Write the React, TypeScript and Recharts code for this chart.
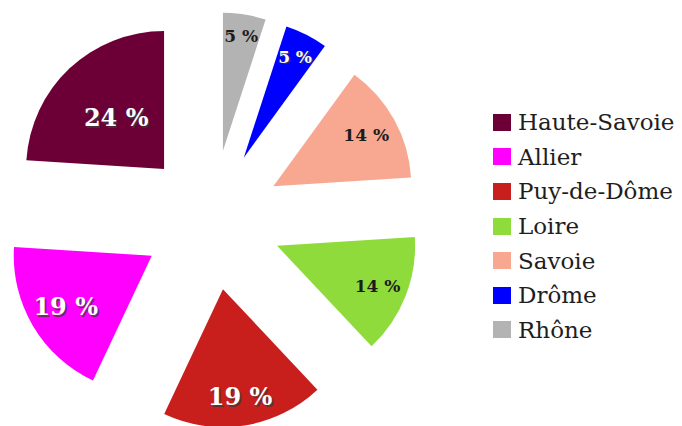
import React from 'react';
import { PieChart, Pie, Cell, Sector, Legend } from 'recharts';

// Data (clockwise from 12 o'clock)
const regions = ['Rhône', 'Drôme', 'Savoie', 'Loire', 'Puy-de-Dôme', 'Allier', 'Haute-Savoie'];
const shares = [5, 5, 14, 14, 19, 19, 24];
const colors = ['#b3b3b3', '#0000ff', '#f8a890', '#8fdb3c', '#c81f1d', '#ff00ff', '#6c0036'];

const data = regions.map((name, i) => ({ name, value: shares[i] }));

// Styles
const labelFill: Record<string, string> = {
  'Rhône': '#1c1c1c',
  'Drôme': '#ffffff',
  'Savoie': '#1c1c1c',
  'Loire': '#1c1c1c',
  'Puy-de-Dôme': '#ffffff',
  'Allier': '#ffffff',
  'Haute-Savoie': '#ffffff',
};
const labelRadius: Record<string, number> = {
  'Rhône': 116,
  'Drôme': 113,
  'Savoie': 106,
  'Loire': 108,
  'Puy-de-Dôme': 109,
  'Allier': 100,
  'Haute-Savoie': 70,
};

const RAD = Math.PI / 180;
const EXPLODE = 70;
const FONT = '"DejaVu Serif", serif';

function renderSlice(props: any) {
  const { cx, cy, midAngle, startAngle, endAngle, outerRadius, index, value } = props;
  const name = regions[index];
  const ux = Math.cos(-midAngle * RAD);
  const uy = Math.sin(-midAngle * RAD);
  const ax = cx + EXPLODE * ux;
  const ay = cy + EXPLODE * uy;
  const r = labelRadius[name];
  const lx = ax + r * ux;
  const ly = ay + r * uy;
  const fs = value >= 19 ? 24 : 17;
  const fill = labelFill[name];
  const light = fill === '#ffffff';
  const txt = `${value} %`;
  return (
    <g key={`slice-${index}`}>
      <Sector
        cx={ax}
        cy={ay}
        innerRadius={0}
        outerRadius={outerRadius}
        startAngle={startAngle}
        endAngle={endAngle}
        fill={colors[index]}
        stroke="none"
      />
      {light && (
        <text
          x={lx + 1.5}
          y={ly + 1.5}
          textAnchor="middle"
          dominantBaseline="central"
          fontFamily={FONT}
          fontWeight="bold"
          fontSize={fs}
          fill="#3a3a3a"
          opacity={0.75}
        >
          {txt}
        </text>
      )}
      <text
        x={lx}
        y={ly}
        textAnchor="middle"
        dominantBaseline="central"
        fontFamily={FONT}
        fontWeight="bold"
        fontSize={fs}
        fill={fill}
      >
        {txt}
      </text>
    </g>
  );
}

function LegendBox(props: any) {
  const payload: any[] = (props.payload && props.payload.length ? props.payload : data.map((d, i) => ({ value: d.name, color: colors[i] })));
  const items = [...payload].sort((a: any, b: any) => regions.indexOf(b.value) - regions.indexOf(a.value));
  return (
    <div style={{ fontFamily: FONT, fontSize: 23, color: '#1e1e1e' }}>
      {items.map((it: any) => {
        const idx = regions.indexOf(it.value);
        return (
          <div key={it.value} style={{ display: 'flex', alignItems: 'center', height: 34.6 }}>
            <span style={{ display: 'inline-block', width: 18, height: 17, background: colors[idx], marginRight: 7, flexShrink: 0 }} />
            <span style={{ lineHeight: '26px', whiteSpace: 'nowrap' }}>{it.value}</span>
          </div>
        );
      })}
    </div>
  );
}

export default function App() {
  return (
    <div style={{ position: 'absolute', left: 0, top: 0, width: 682, height: 426, background: '#ffffff' }}>
      <PieChart width={682} height={426} margin={{ top: 0, right: 0, bottom: 0, left: 0 }}>
        <Pie
          data={data}
          dataKey="value"
          nameKey="name"
          cx={212}
          cy={220}
          innerRadius={0}
          outerRadius={138}
          startAngle={90}
          endAngle={-270}
          stroke="none"
          fillOpacity={0}
          labelLine={false}
          label={renderSlice}
          isAnimationActive={false}
        >
          {data.map((d, i) => (
            <Cell key={d.name} fill={colors[i]} fillOpacity={0} />
          ))}
        </Pie>
        <Legend
          layout="vertical"
          content={(p: any) => <LegendBox payload={p.payload} />}
          wrapperStyle={{ left: 493, top: 105, width: 189, right: 'auto', bottom: 'auto' }}
        />
      </PieChart>
    </div>
  );
}
